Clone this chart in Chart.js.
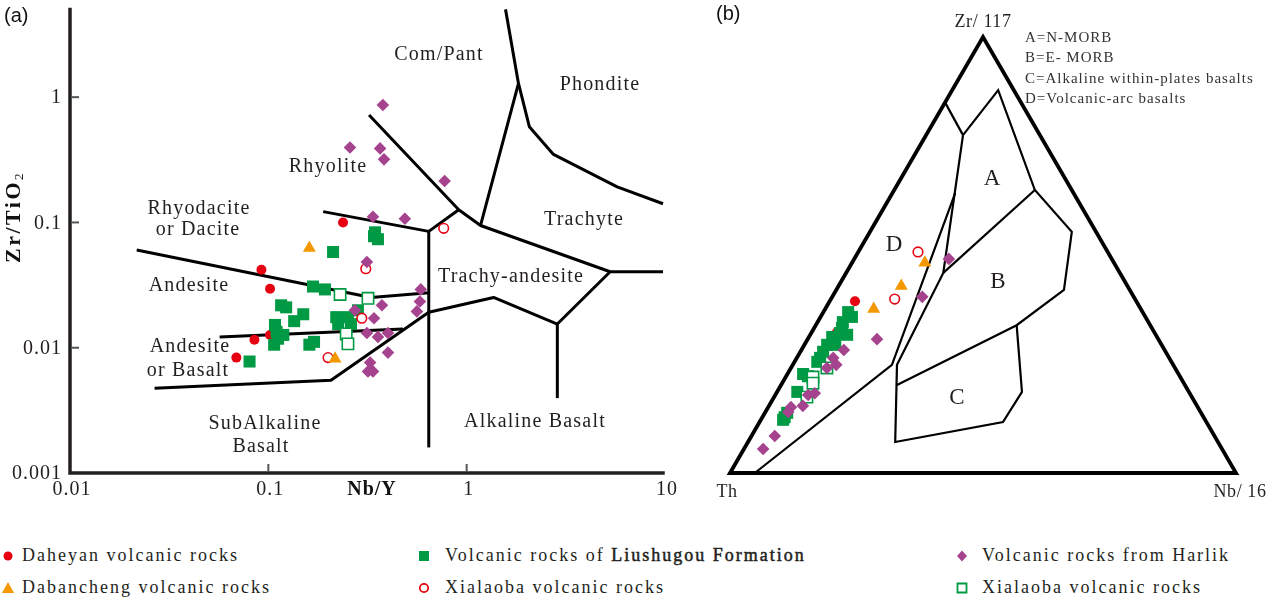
<!DOCTYPE html>
<html><head><meta charset="utf-8">
<script src="https://cdn.jsdelivr.net/npm/chart.js@4.4.1/dist/chart.umd.min.js"></script>
<style>
html,body{margin:0;padding:0;background:#fff;}
body{width:1267px;height:601px;overflow:hidden;position:relative;}
canvas{position:absolute;top:0;}
#c1{left:0;} #c2{left:700px;}
.lg{position:absolute;font-family:"Liberation Serif",serif;font-size:18px;letter-spacing:2px;color:#231f20;white-space:nowrap;line-height:20px;}
.mk{position:absolute;}
</style></head><body>
<canvas id="c1" width="690" height="510"></canvas>
<canvas id="c2" width="567" height="510"></canvas>
<script>
// ---------- series names ----------
const seriesNames = ['Daheyan volcanic rocks','Dabancheng volcanic rocks','Volcanic rocks of Liushugou Formation','Xialaoba volcanic rocks','Volcanic rocks from Harlik','Xialaoba volcanic rocks'];

// ---------- (a) Nb/Y vs Zr/TiO2 ----------
const daheyanX = [0.238,0.0923,0.102,0.0851,0.102,0.069];
const daheyanY = [0.100,0.0419,0.0296,0.01156,0.01265,0.00834];
const dabanchengX = [0.161,0.217];
const dabanchengY = [0.0624,0.00818];
const liushugouX = [0.341,0.357,0.345,0.212,0.168,0.193,0.116,0.123,0.150,0.135,0.108,0.110,0.112,0.107,0.119,0.170,0.161,0.220,0.225,0.252,0.283,0.261,0.0804];
const liushugouY = [0.0776,0.0735,0.0834,0.0581,0.0308,0.0292,0.0218,0.0210,0.0185,0.0163,0.0152,0.0134,0.0118,0.01057,0.01265,0.01114,0.01057,0.01754,0.01545,0.01754,0.0199,0.01545,0.00776];
const xialaobaCircX = [0.310,0.296,0.200,0.766];
const xialaobaCircY = [0.0427,0.0172,0.00834,0.0897];
const harlikX = [0.378,0.258,0.366,0.383,0.774,0.337,0.488,0.314,0.587,0.581,0.561,0.374,0.341,0.273,0.314,0.357,0.401,0.401,0.326,0.318,0.337];
const harlikY = [0.865,0.396,0.390,0.319,0.214,0.111,0.107,0.0484,0.0292,0.0234,0.0195,0.0218,0.0172,0.0199,0.0131,0.0122,0.0131,0.00914,0.00762,0.00647,0.00647];
const xialaobaSqX = [0.230,0.318,0.247,0.252];
const xialaobaSqY = [0.0266,0.0248,0.01288,0.01074];

const xTickValues = [0.01,0.1,1,10];
const xTickLabels = ['0.01','0.1','1','10'];
const yTickValues = [0.001,0.01,0.1,1];
const yTickLabels = ['0.001','0.01','0.1','1'];

// field boundaries of diagram (a), in (Nb/Y, Zr/TiO2)
const fieldLinesA = [
  [[0.0217,0.0603],[0.330,0.0252],[0.644,0.0275]],
  [[0.0568,0.0122],[0.477,0.0141]],
  [[0.0267,0.00475],[0.207,0.0055],[0.644,0.0192],[1.367,0.0252],[2.865,0.01545],[5.29,0.0404],[9.77,0.0404]],
  [[2.865,0.01545],[2.865,0.00396]],
  [[0.644,0.0849],[0.644,0.0016]],
  [[0.189,0.122],[0.644,0.0849],[0.912,0.1264]],
  [[0.322,0.721],[0.912,0.1264],[1.175,0.0946],[5.29,0.0404]],
  [[1.175,0.0946],[1.825,1.288],[1.57,5.02]],
  [[1.825,1.288],[2.07,0.581],[2.74,0.349],[5.74,0.192],[9.77,0.141]]
];

// ---------- (b) Th - Zr/117 - Nb/16 ternary, [Th, Zr/117, Nb/16] % ----------
const daheyanT = [[55.6,39.4,5.0],[62.7,32.3,5.0]];
const dabanchengT = [[37.4,48.2,14.4],[44.7,42.9,12.4],[52.8,37.6,9.6]];
const xialaobaCircT = [[37.5,50.7,11.8],[47.5,39.9,12.6]];
const harlikT = [[32.2,49.1,18.7],[41.8,40.4,17.8],[55.6,30.7,13.7],[63.4,28.2,8.4],[66.4,26.4,7.2],[66.6,24.8,8.6],[68.8,24.1,7.1],[74.1,18.3,7.6],[75.6,17.9,6.5],[77.9,15.4,6.7],[80.4,15.1,4.5],[81.5,14.0,4.5],[86.9,8.5,4.6],[90.7,5.5,3.8]];
const liushugouT = [[58.2,36.9,4.9],[58.0,35.8,6.2],[60.4,34.6,5.0],[61.2,33.3,5.5],[61.0,31.7,7.3],[64.2,31.2,4.6],[66.1,29.4,4.5],[67.7,27.8,4.5],[69.0,26.4,4.6],[70.0,25.5,4.5],[74.2,22.7,3.1],[73.5,22.2,4.3],[77.4,18.6,4.0],[82.8,12.8,4.4],[83.4,12.2,4.4],[81.8,13.8,4.4],[64.5,29.4,6.1],[62.2,32.1,5.7]];
const xialaobaSqT = [[72.6,22.0,5.4],[73.3,20.6,6.1],[68.8,24.1,7.1],[76.1,17.4,6.5]];

const ternaryFrame = [[100,0,0],[0,100,0],[0,0,100]];
const fieldLinesB = [
  [[15,85,0],[15.2,77.5,7.3]],
  [[15.2,77.5,7.3],[3.1,87.8,9.1],[7.3,64.9,27.8],[4.8,55.3,39.9],[13.0,42.0,45.0],[26.4,33.9,39.7],[56.9,20.2,22.9]],
  [[15.2,77.5,7.3],[34.9,45.9,19.2],[54.6,24.8,20.6],[63.8,7.1,29.1],[40.2,11.7,48.1],[33.0,18.6,48.4],[26.4,33.9,39.7]],
  [[34.9,45.9,19.2],[7.3,64.9,27.8]],
  [[23.4,64.2,12.4],[55.6,24.8,19.6],[95.1,0,4.9]]
];
const fieldNamesB = ['A=N-MORB','B=E- MORB','C=Alkaline within-plates basalts','D=Volcanic-arc basalts'];

// ---------- styles ----------
const RED='#e60012', ORANGE='#f39800', GREEN='#009944', PURPLE='#a5438f';
const st = {
  daheyan:{pointStyle:'circle',pointRadius:5,backgroundColor:RED,borderColor:RED,borderWidth:0},
  dabancheng:{pointStyle:'triangle',pointRadius:7.5,backgroundColor:ORANGE,borderColor:ORANGE,borderWidth:0},
  liushugou:{pointStyle:'rect',pointRadius:8.5,backgroundColor:GREEN,borderColor:GREEN,borderWidth:0},
  xialaobaCirc:{pointStyle:'circle',pointRadius:4.8,backgroundColor:'#fff',borderColor:RED,borderWidth:1.6},
  harlik:{pointStyle:'rectRot',pointRadius:6.3,backgroundColor:PURPLE,borderColor:PURPLE,borderWidth:0},
  xialaobaSq:{pointStyle:'rect',pointRadius:8,backgroundColor:'#fff',borderColor:GREEN,borderWidth:1.6}
};
const SERIF='"Liberation Serif", "Times New Roman", serif';
const INK='#231f20';

function mk(label, pts, style){ return Object.assign({label, data:pts, showLine:false, clip:false, pointHoverRadius:style.pointRadius}, style); }
const zipXY = (xs, ys) => xs.map((x,i)=>({x, y:ys[i]}));
const tern = ([th,zr,nb]) => { const s=th+zr+nb; return {x:(nb+zr/2)/s, y:zr/s}; };

function txt(ctx, s, x, y, font, align, spacing, color){
  ctx.font = font; ctx.letterSpacing = spacing || '0px'; ctx.fillStyle = color || INK;
  ctx.textAlign = align || 'center'; ctx.textBaseline = 'middle'; ctx.fillText(s, x, y);
}

// ---------- chart (a) ----------
const regionLabelsA = [['Com/Pant',439,55],['Phondite',600,85],['Rhyolite',328,167],['Rhyodacite',199,209],['or Dacite',198,230],['Trachyte',584,220],['Andesite',189,286],['Trachy-andesite',511,277],['Andesite',190,347],['or Basalt',188,371],['SubAlkaline',265,424],['Basalt',261,447],['Alkaline Basalt',535,422]];

const plugA = {
  id:'plugA',
  beforeDatasetsDraw(chart){
    const {ctx, scales:{x,y}} = chart;
    ctx.save();
    ctx.strokeStyle='#000'; ctx.lineWidth=3; ctx.lineJoin='round'; ctx.lineCap='butt';
    fieldLinesA.forEach(line=>{
      ctx.beginPath();
      line.forEach(([a,b],i)=>{ const px=x.getPixelForValue(a), py=y.getPixelForValue(b); i?ctx.lineTo(px,py):ctx.moveTo(px,py); });
      ctx.stroke();
    });
    regionLabelsA.forEach(([s,px,py])=>txt(ctx,s,px,py,'20px '+SERIF,'center','1.2px'));
    ctx.restore();
  },
  afterDatasetsDraw(chart){
    const {ctx, chartArea:a, scales:{x,y}} = chart;
    ctx.save();
    // axes
    ctx.strokeStyle=INK; ctx.lineWidth=3.5; ctx.lineCap='square';
    ctx.beginPath(); ctx.moveTo(a.left, a.top); ctx.lineTo(a.left, a.bottom); ctx.lineTo(a.right-2, a.bottom); ctx.stroke();
    // inward ticks
    ctx.strokeStyle='#555'; ctx.lineWidth=2; ctx.lineCap='butt';
    yTickValues.forEach(v=>{ if(v<=0.001) return; const py=y.getPixelForValue(v); ctx.beginPath(); ctx.moveTo(a.left+1,py); ctx.lineTo(a.left+9,py); ctx.stroke(); });
    xTickValues.forEach(v=>{ if(v<=0.01||v>=10) return; const px=x.getPixelForValue(v); ctx.beginPath(); ctx.moveTo(px,a.bottom-1); ctx.lineTo(px,a.bottom-9); ctx.stroke(); });
    // tick labels
    yTickValues.forEach((v,i)=>txt(ctx,yTickLabels[i],a.left-8,y.getPixelForValue(v)+1,'20px '+SERIF,'right','1px'));
    xTickValues.forEach((v,i)=>txt(ctx,xTickLabels[i],x.getPixelForValue(v)+2,a.bottom+17,'20px '+SERIF,'center','1px'));
    // axis titles
    txt(ctx,'Nb/Y',372,a.bottom+17,'bold 20px '+SERIF,'center','1px','#111');
    ctx.save();
    ctx.translate(14,217); ctx.rotate(-Math.PI/2);
    ctx.font='bold 22px '+SERIF; ctx.letterSpacing='2.5px';
    const w1=ctx.measureText('Zr/TiO').width; ctx.font='bold 13px '+SERIF; const w2=ctx.measureText('2').width;
    const x0=-(w1+w2)/2;
    txt(ctx,'Zr/TiO',x0,0,'bold 22px '+SERIF,'left','2.5px','#111');
    txt(ctx,'2',x0+w1,6,'13px '+SERIF,'left','0px','#111');
    ctx.restore();
    txt(ctx,'(a)',4,16,'20px "Liberation Sans", Arial, sans-serif','left','0px','#111');
    ctx.restore();
  }
};

new Chart(document.getElementById('c1'),{
  type:'scatter',
  data:{datasets:[
    mk(seriesNames[1], zipXY(dabanchengX,dabanchengY), st.dabancheng),
    mk(seriesNames[4], zipXY(harlikX,harlikY), st.harlik),
    mk(seriesNames[5], zipXY(xialaobaSqX,xialaobaSqY), st.xialaobaSq),
    mk(seriesNames[3], zipXY(xialaobaCircX,xialaobaCircY), st.xialaobaCirc),
    mk(seriesNames[2], zipXY(liushugouX,liushugouY), st.liushugou),
    mk(seriesNames[0], zipXY(daheyanX,daheyanY), st.daheyan)
  ]},
  options:{
    responsive:false, animation:false, events:[],
    layout:{padding:{left:70,right:25,top:3,bottom:37}},
    plugins:{legend:{display:false},tooltip:{enabled:false}},
    scales:{
      x:{type:'logarithmic',min:0.01,max:10,display:false},
      y:{type:'logarithmic',min:0.001,max:5,display:false}
    }
  },
  plugins:[plugA]
});

// ---------- chart (b) ----------
const plugB = {
  id:'plugB',
  beforeDatasetsDraw(chart){
    const {ctx, scales:{x,y}} = chart;
    const P = c => { const p=tern(c); return [x.getPixelForValue(p.x), y.getPixelForValue(p.y)]; };
    ctx.save();
    ctx.strokeStyle='#000'; ctx.lineJoin='miter';
    ctx.lineWidth=2.2;
    fieldLinesB.forEach(line=>{ ctx.beginPath(); line.forEach((c,i)=>{ const [px,py]=P(c); i?ctx.lineTo(px,py):ctx.moveTo(px,py); }); ctx.stroke(); });
    ctx.lineWidth=3.8;
    ctx.beginPath(); ternaryFrame.forEach((c,i)=>{ const [px,py]=P(c); i?ctx.lineTo(px,py):ctx.moveTo(px,py); }); ctx.closePath(); ctx.stroke();
    // labels
    [['A',292,179],['B',298,282],['C',257,398],['D',194,245]].forEach(([s,px,py])=>txt(ctx,s,px,py,'23px '+SERIF,'center','0px'));
    const [tx,ty]=P(ternaryFrame[0]), [zx,zy]=P(ternaryFrame[1]), [nx,ny]=P(ternaryFrame[2]);
    txt(ctx,'Zr/ 117',zx,zy-15,'18px '+SERIF,'center','0.6px');
    txt(ctx,'Th',tx-3,ty+19,'18px '+SERIF,'center','0.6px');
    txt(ctx,'Nb/ 16',nx+4,ny+19,'18px '+SERIF,'center','0.6px');
    fieldNamesB.forEach((s,i)=>txt(ctx,s,325,38+i*20.5,'15px '+SERIF,'left','1px','#333'));
    txt(ctx,'(b)',16,14,'20px "Liberation Sans", Arial, sans-serif','left','0px','#111');
    ctx.restore();
  }
};

new Chart(document.getElementById('c2'),{
  type:'scatter',
  data:{datasets:[
    mk(seriesNames[1], dabanchengT.map(tern), st.dabancheng),
    mk(seriesNames[4], harlikT.map(tern), st.harlik),
    mk(seriesNames[5], xialaobaSqT.map(tern), st.xialaobaSq),
    mk(seriesNames[3], xialaobaCircT.map(tern), st.xialaobaCirc),
    mk(seriesNames[2], liushugouT.map(tern), st.liushugou),
    mk(seriesNames[0], daheyanT.map(tern), st.daheyan)
  ]},
  options:{
    responsive:false, animation:false, events:[],
    layout:{padding:{left:30,right:31,top:37,bottom:37}},
    plugins:{legend:{display:false},tooltip:{enabled:false}},
    scales:{ x:{type:'linear',min:0,max:1,display:false}, y:{type:'linear',min:0,max:1,display:false} }
  },
  plugins:[plugB]
});

// ---------- bottom legend ----------
const legendCols = [8,424,962], legendTextX = [22,445,982], legendRows = [556,588];
const legendItems = [
  {i:0, s:'daheyan', c:0, r:0},
  {i:1, s:'dabancheng', c:0, r:1},
  {i:2, s:'liushugou', c:1, r:0},
  {i:3, s:'xialaobaCirc', c:1, r:1},
  {i:4, s:'harlik', c:2, r:0},
  {i:5, s:'xialaobaSq', c:2, r:1}
];
function drawMarker(cv, key){
  const ctx=cv.getContext('2d'); const c=8; const o=st[key];
  ctx.fillStyle=o.backgroundColor; ctx.strokeStyle=o.borderColor; ctx.lineWidth=1.8;
  ctx.beginPath();
  if(key==='daheyan'){ ctx.arc(c,c,4.5,0,Math.PI*2); ctx.fill(); }
  else if(key==='xialaobaCirc'){ ctx.arc(c,c,4.2,0,Math.PI*2); ctx.fill(); ctx.stroke(); }
  else if(key==='dabancheng'){ ctx.moveTo(c,c-6); ctx.lineTo(c+6,c+5); ctx.lineTo(c-6,c+5); ctx.closePath(); ctx.fill(); }
  else if(key==='liushugou'){ ctx.rect(c-5,c-5,10,10); ctx.fill(); }
  else if(key==='xialaobaSq'){ ctx.rect(c-4.5,c-4.5,9,9); ctx.fill(); ctx.stroke(); }
  else if(key==='harlik'){ ctx.moveTo(c,c-5.5); ctx.lineTo(c+5,c); ctx.lineTo(c,c+5.5); ctx.lineTo(c-5,c); ctx.closePath(); ctx.fill(); }
}
legendItems.forEach(it=>{
  const cv=document.createElement('canvas'); cv.width=16; cv.height=16; cv.className='mk';
  cv.style.left=(legendCols[it.c]-8)+'px'; cv.style.top=(legendRows[it.r]-8)+'px';
  document.body.appendChild(cv); drawMarker(cv,it.s);
  const d=document.createElement('div'); d.className='lg';
  d.style.left=legendTextX[it.c]+'px'; d.style.top=(legendRows[it.r]-11)+'px';
  const name=seriesNames[it.i];
  if(name.indexOf('Liushugou')>=0){
    const k=name.indexOf('Liushugou');
    d.appendChild(document.createTextNode(name.slice(0,k)));
    const b=document.createElement('span'); b.textContent=name.slice(k); b.style.webkitTextStroke='0.5px '+INK; d.appendChild(b);
  } else d.textContent=name;
  document.body.appendChild(d);
});
</script></body></html>
